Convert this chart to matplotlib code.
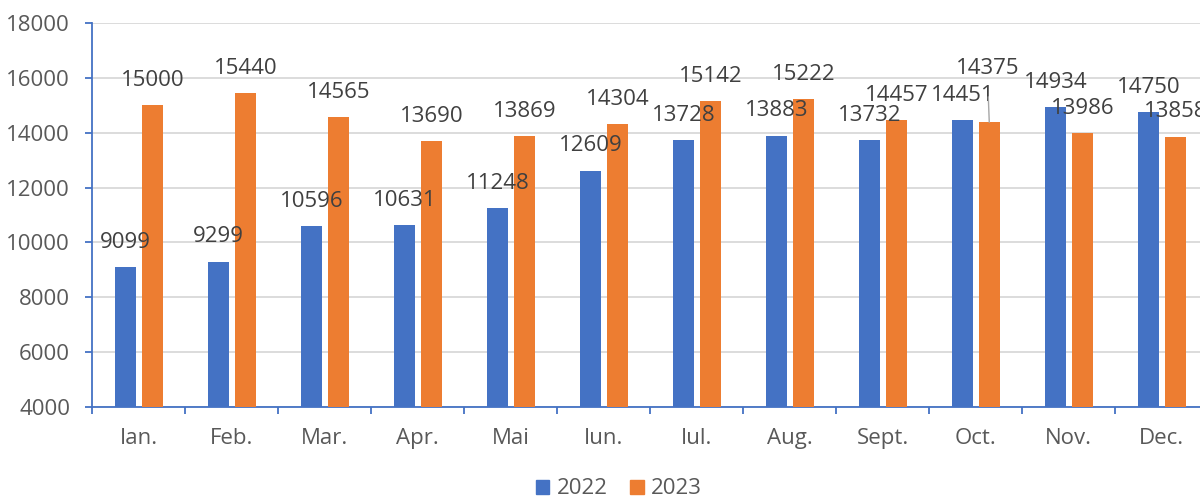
import matplotlib
matplotlib.use("Agg")
import matplotlib.pyplot as plt
import numpy as np
from matplotlib.patches import Patch

months = ["Ian.", "Feb.", "Mar.", "Apr.", "Mai", "Iun.", "Iul.", "Aug.", "Sept.", "Oct.", "Nov.", "Dec."]
values_2022 = [9099, 9299, 10596, 10631, 11248, 12609, 13728, 13883, 13732, 14451, 14934, 14750]
values_2023 = [15000, 15440, 14565, 13690, 13869, 14304, 15142, 15222, 14457, 14375, 13986, 13858]
series_names = ["2022", "2023"]
y_ticks = [4000, 6000, 8000, 10000, 12000, 14000, 16000, 18000]

BLUE = "#4472C4"
ORANGE = "#ED7D31"
TXT = "#595959"
LBL = "#404040"
FS = 16

plt.rcParams['font.family'] = ['Open Sans', 'DejaVu Sans']

fig = plt.figure(figsize=(12, 4.99), dpi=100)
ax = fig.add_axes([92.3/1200, 92/499, 1116/1200, 384/499])

x = np.arange(len(months))
w = 0.23
off = 0.145
ax.bar(x - off, values_2022, w, color=BLUE, zorder=3)
ax.bar(x + off, values_2023, w, color=ORANGE, zorder=3)

ax.set_xlim(-0.5, len(months) - 0.5)
ax.set_ylim(4000, 18000)
ax.set_yticks(y_ticks)
ax.set_yticklabels([str(t) for t in y_ticks], fontsize=FS, color=TXT)
ax.yaxis.grid(True, color="#D9D9D9", linewidth=1.3, zorder=0)
ax.set_axisbelow(True)

ax.set_xticks(x)
ax.set_xticklabels(months, fontsize=FS, color=TXT)
ax.set_xticks(np.arange(len(months) + 1) - 0.5, minor=True)
ax.tick_params(axis='x', which='major', length=0, pad=15)
ax.tick_params(axis='x', which='minor', length=5, width=1.3, color=BLUE, direction='out')
ax.tick_params(axis='y', which='major', length=5, width=1.3, color=BLUE, direction='out', pad=11)

for s in ["top", "right"]:
    ax.spines[s].set_visible(False)
for s in ["left", "bottom"]:
    ax.spines[s].set_color(BLUE)
    ax.spines[s].set_linewidth(1.3)

for i, v in enumerate(values_2022):
    ax.annotate(str(v), (x[i] - off, v), xytext=(0, 18), textcoords='offset points',
                ha='center', va='center', fontsize=FS, color=LBL, annotation_clip=False)
for i, v in enumerate(values_2023):
    if months[i] == "Oct.":
        ax.annotate(str(v), (x[i] + off, v), xytext=(-1.5, 39), textcoords='offset points',
                    ha='center', va='center', fontsize=FS, color=LBL, annotation_clip=False,
                    arrowprops=dict(arrowstyle='-', color='#A6A6A6', lw=1, shrinkA=11, shrinkB=0))
    else:
        ax.annotate(str(v), (x[i] + off, v), xytext=(0, 18), textcoords='offset points',
                    ha='center', va='center', fontsize=FS, color=LBL, annotation_clip=False)

handles = [Patch(color=BLUE), Patch(color=ORANGE)]
fig.legend(handles, series_names, loc='center', bbox_to_anchor=(619/1200, 10/499),
           ncol=2, frameon=False, fontsize=FS, labelcolor=TXT,
           handlelength=0.6, handleheight=0.6, handletextpad=0.35, columnspacing=1.0)

fig.savefig("out.png", dpi=100)
